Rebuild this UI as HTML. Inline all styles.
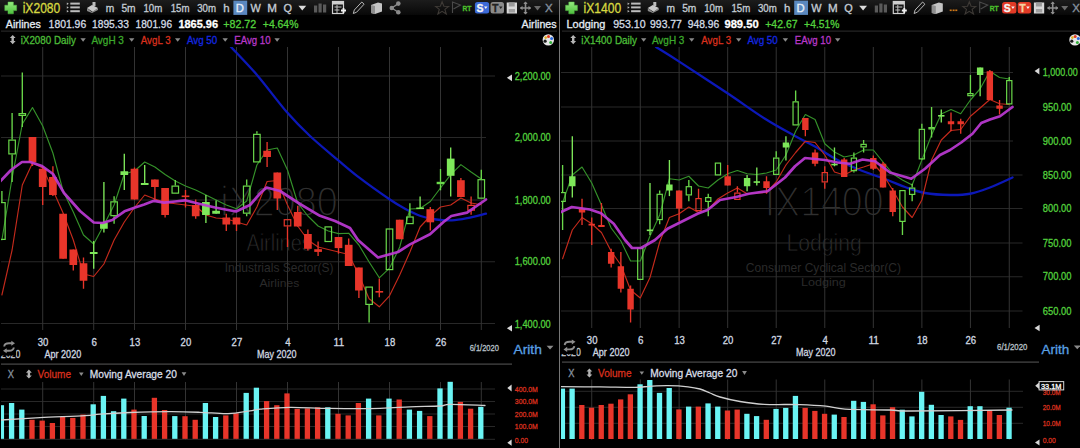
<!DOCTYPE html>
<html><head><meta charset="utf-8"><style>
html,body{margin:0;padding:0;background:#000;width:1080px;height:448px;overflow:hidden}
svg text{font-family:"Liberation Sans", sans-serif}
</style></head><body>
<svg width="1080" height="448" viewBox="0 0 1080 448" style="display:block;font-family:&quot;Liberation Sans&quot;, sans-serif"><defs><linearGradient id="tb" x1="0" y1="0" x2="0" y2="1"><stop offset="0" stop-color="#1c1c1c"/><stop offset="1" stop-color="#080808"/></linearGradient><linearGradient id="pl" x1="0" y1="0" x2="0" y2="1"><stop offset="0" stop-color="#96ea80"/><stop offset="1" stop-color="#4cc03c"/></linearGradient><clipPath id="cl"><rect x="1" y="47" width="495" height="283"/></clipPath><clipPath id="cr"><rect x="561" y="47" width="462" height="283"/></clipPath><clipPath id="vl"><rect x="1" y="380" width="495" height="68"/></clipPath><clipPath id="vr"><rect x="561" y="378" width="462" height="70"/></clipPath></defs><rect width="1080" height="448" fill="#000"/><rect x="0" y="0" width="559" height="15" fill="url(#tb)"/><rect x="560" y="0" width="520" height="15" fill="url(#tb)"/><path d="M8 2 h5.4 v3.2 h3.2 v5.4 h-3.2 v3.2 h-5.4 v-3.2 h-3.2 v-5.4 h3.2 z" fill="url(#pl)" stroke="#58c048" stroke-width="0.5" stroke-linejoin="round"/><text x="22.7" y="12.9" font-size="14" fill="#d6d840" stroke="#d6d840" stroke-width="0.3" textLength="37.6" lengthAdjust="spacingAndGlyphs">iX2080</text><path d="M66.8 2.5 l2 1.2 l-2 1.2 z" fill="#bcbcbc"/><rect x="70.3" y="2.6" width="9.5" height="2" fill="#bcbcbc"/><path d="M66.8 6.3 l2 1.2 l-2 1.2 z" fill="#bcbcbc"/><rect x="70.3" y="6.4" width="9.5" height="2" fill="#bcbcbc"/><path d="M66.8 10.1 l2 1.2 l-2 1.2 z" fill="#bcbcbc"/><rect x="70.3" y="10.2" width="9.5" height="2" fill="#bcbcbc"/><path d="M87 8 l5 -3 l6 3 l-5 4 z" fill="#c8c8c8"/><path d="M87 8 v3 l5 2 l6 -3 v-2 l-6 4 z" fill="#8a8a8a"/><rect x="92.5" y="2" width="3" height="4" fill="#bbb"/><text x="105.8" y="11.9" font-size="10.2" fill="#c4ccd4" stroke="#c4ccd4" stroke-width="0.3" textLength="8.5" lengthAdjust="spacingAndGlyphs">m</text><text x="121.4" y="11.9" font-size="10.2" fill="#c4ccd4" stroke="#c4ccd4" stroke-width="0.3" textLength="14.2" lengthAdjust="spacingAndGlyphs">5m</text><text x="143.4" y="11.9" font-size="10.2" fill="#c4ccd4" stroke="#c4ccd4" stroke-width="0.3" textLength="18.8" lengthAdjust="spacingAndGlyphs">10m</text><text x="170.7" y="11.9" font-size="10.2" fill="#c4ccd4" stroke="#c4ccd4" stroke-width="0.3" textLength="18.8" lengthAdjust="spacingAndGlyphs">15m</text><text x="197.2" y="11.9" font-size="10.2" fill="#c4ccd4" stroke="#c4ccd4" stroke-width="0.3" textLength="18.8" lengthAdjust="spacingAndGlyphs">30m</text><text x="223.2" y="11.9" font-size="10.2" fill="#c4ccd4" stroke="#c4ccd4" stroke-width="0.3" textLength="6.4" lengthAdjust="spacingAndGlyphs">h</text><rect x="233.4" y="0.6" width="13.8" height="14.3" fill="#5a88bf"/><text x="235.8" y="11.9" font-size="10.2" fill="#e6eef6" stroke="#e6eef6" stroke-width="0.3" textLength="8.2" lengthAdjust="spacingAndGlyphs">D</text><text x="250.5" y="11.9" font-size="10.2" fill="#c4ccd4" stroke="#c4ccd4" stroke-width="0.3" textLength="10.3" lengthAdjust="spacingAndGlyphs">W</text><text x="267.3" y="11.9" font-size="10.2" fill="#c4ccd4" stroke="#c4ccd4" stroke-width="0.3" textLength="9.7" lengthAdjust="spacingAndGlyphs">M</text><text x="283.5" y="11.9" font-size="10.2" fill="#c4ccd4" stroke="#c4ccd4" stroke-width="0.3" textLength="8.5" lengthAdjust="spacingAndGlyphs">Q</text><path d="M298.4 5.8 L306.2 5.8 L302.3 10.4 Z" fill="#dcdcdc"/><rect x="314" y="5.5" width="3.2" height="7" fill="#5a5a5a"/><rect x="318.5" y="3.5" width="3.2" height="9" fill="#5a5a5a"/><rect x="323" y="4.5" width="3.2" height="8" fill="#5a5a5a"/><rect x="332.5" y="1.5" width="11" height="12" fill="none" stroke="#d0d0d0" stroke-width="1.2"/><rect x="332.5" y="1.5" width="11" height="3" fill="#d0d0d0"/><path d="M334.5 7 h7 M334.5 10 h5 M337 5 v8" stroke="#c0c0c0" stroke-width="1"/><path d="M341 10.5 h5 M343.5 8 v5" stroke="#f0f0f0" stroke-width="1.8"/><path d="M353.3 13.5 l1 -3.5 l7.5 -8 l2.3 2.2 l-7.5 8 z" fill="none" stroke="#b8b8b8" stroke-width="1"/><path d="M371 5 l7 -2.5 l4 1 v8 l-7 2.5 l-4 -1 z" fill="#c4c4c4"/><path d="M371 5 l4 1 v8 l-4 -1 z" fill="#8e8e8e"/><circle cx="391.8" cy="8" r="2.3" fill="#8a8a8a"/><circle cx="398.3" cy="3.6" r="2.3" fill="#8a8a8a"/><circle cx="398.3" cy="12.2" r="2.3" fill="#8a8a8a"/><path d="M391.8 8 L398.3 3.6 M391.8 8 L398.3 12.2" stroke="#8a8a8a" stroke-width="1.3"/><path d="M442.1 1.8 L443.9 6.2 L448.6 6.4 L444.9 9.4 L446.3 14 L442.1 11.4 L437.9 14 L439.3 9.4 L435.6 6.4 L440.3 6.2 Z" fill="none" stroke="#3e3a36" stroke-width="1.1"/><path d="M452.5 13 L452.5 2 L460.5 5 L453.5 9" fill="none" stroke="#4a4a4a" stroke-width="1.1"/><text x="462.5" y="10.6" font-size="7.5" fill="#4cc02c" stroke="#4cc02c" stroke-width="0.3" textLength="9" lengthAdjust="spacingAndGlyphs" font-weight="bold">RT</text><rect x="474.9" y="1.9" width="14.3" height="11.7" rx="2.5" fill="#3c6ad8"/><text x="476.5" y="11.6" font-size="10.5" fill="#f4f4f4" stroke="#f4f4f4" stroke-width="0.3" textLength="7" lengthAdjust="spacingAndGlyphs" font-weight="bold">S</text><path d="M484 6.5 L487.5 6.5 L485.75 9 Z" fill="#f4f4f4"/><rect x="490.5" y="1.9" width="13.5" height="11.7" rx="2.5" fill="#8a8a8a"/><text x="492" y="11.6" font-size="10.5" fill="#222" stroke="#222" stroke-width="0.3" textLength="6.5" lengthAdjust="spacingAndGlyphs" font-weight="bold">T</text><path d="M499 6.5 L502.5 6.5 L500.75 9 Z" fill="#222"/><rect x="506.7" y="2.5" width="10.3" height="11" fill="#d8d8d8"/><rect x="508.7" y="2.5" width="6" height="4" fill="#9a9a9a"/><rect x="508.7" y="9" width="6.3" height="3.5" fill="#a0a0a0"/><path d="M525.5 2 v12 M520.3 8 h10.4" stroke="#8e8e8e" stroke-width="1.6"/><path d="M525.5 1.5 l-2.2 2.5 h4.4 z M525.5 14.5 l-2.2 -2.5 h4.4 z M520 8 l2.5 -2.2 v4.4 z M531 8 l-2.5 -2.2 v4.4 z" fill="#8e8e8e"/><path d="M534 6 L541 6 L537.5 10.6 Z" fill="#6a6a6a"/><text x="545" y="12" font-size="10.5" fill="#8894a0" stroke="#8894a0" stroke-width="0.3" textLength="7.7" lengthAdjust="spacingAndGlyphs">X</text><path d="M568.8 2 h5.4 v3.2 h3.2 v5.4 h-3.2 v3.2 h-5.4 v-3.2 h-3.2 v-5.4 h3.2 z" fill="url(#pl)" stroke="#58c048" stroke-width="0.5" stroke-linejoin="round"/><text x="583.5" y="12.9" font-size="14" fill="#d6d840" stroke="#d6d840" stroke-width="0.3" textLength="37.6" lengthAdjust="spacingAndGlyphs">iX1400</text><path d="M627.6 2.5 l2 1.2 l-2 1.2 z" fill="#bcbcbc"/><rect x="631.1" y="2.6" width="9.5" height="2" fill="#bcbcbc"/><path d="M627.6 6.3 l2 1.2 l-2 1.2 z" fill="#bcbcbc"/><rect x="631.1" y="6.4" width="9.5" height="2" fill="#bcbcbc"/><path d="M627.6 10.1 l2 1.2 l-2 1.2 z" fill="#bcbcbc"/><rect x="631.1" y="10.2" width="9.5" height="2" fill="#bcbcbc"/><path d="M647.8 8 l5 -3 l6 3 l-5 4 z" fill="#c8c8c8"/><path d="M647.8 8 v3 l5 2 l6 -3 v-2 l-6 4 z" fill="#8a8a8a"/><rect x="653.3" y="2" width="3" height="4" fill="#bbb"/><text x="666.6" y="11.9" font-size="10.2" fill="#c4ccd4" stroke="#c4ccd4" stroke-width="0.3" textLength="8.5" lengthAdjust="spacingAndGlyphs">m</text><text x="682.2" y="11.9" font-size="10.2" fill="#c4ccd4" stroke="#c4ccd4" stroke-width="0.3" textLength="14.2" lengthAdjust="spacingAndGlyphs">5m</text><text x="704.2" y="11.9" font-size="10.2" fill="#c4ccd4" stroke="#c4ccd4" stroke-width="0.3" textLength="18.8" lengthAdjust="spacingAndGlyphs">10m</text><text x="731.5" y="11.9" font-size="10.2" fill="#c4ccd4" stroke="#c4ccd4" stroke-width="0.3" textLength="18.8" lengthAdjust="spacingAndGlyphs">15m</text><text x="758" y="11.9" font-size="10.2" fill="#c4ccd4" stroke="#c4ccd4" stroke-width="0.3" textLength="18.8" lengthAdjust="spacingAndGlyphs">30m</text><text x="784" y="11.9" font-size="10.2" fill="#c4ccd4" stroke="#c4ccd4" stroke-width="0.3" textLength="6.4" lengthAdjust="spacingAndGlyphs">h</text><rect x="794.2" y="0.6" width="13.8" height="14.3" fill="#5a88bf"/><text x="796.6" y="11.9" font-size="10.2" fill="#e6eef6" stroke="#e6eef6" stroke-width="0.3" textLength="8.2" lengthAdjust="spacingAndGlyphs">D</text><text x="811.3" y="11.9" font-size="10.2" fill="#c4ccd4" stroke="#c4ccd4" stroke-width="0.3" textLength="10.3" lengthAdjust="spacingAndGlyphs">W</text><text x="828.1" y="11.9" font-size="10.2" fill="#c4ccd4" stroke="#c4ccd4" stroke-width="0.3" textLength="9.7" lengthAdjust="spacingAndGlyphs">M</text><text x="844.3" y="11.9" font-size="10.2" fill="#c4ccd4" stroke="#c4ccd4" stroke-width="0.3" textLength="8.5" lengthAdjust="spacingAndGlyphs">Q</text><path d="M859.2 5.8 L867 5.8 L863.1 10.4 Z" fill="#dcdcdc"/><rect x="874.8" y="5.5" width="3.2" height="7" fill="#5a5a5a"/><rect x="879.3" y="3.5" width="3.2" height="9" fill="#5a5a5a"/><rect x="883.8" y="4.5" width="3.2" height="8" fill="#5a5a5a"/><rect x="893.3" y="1.5" width="11" height="12" fill="none" stroke="#d0d0d0" stroke-width="1.2"/><rect x="893.3" y="1.5" width="11" height="3" fill="#d0d0d0"/><path d="M895.3 7 h7 M895.3 10 h5 M897.8 5 v8" stroke="#c0c0c0" stroke-width="1"/><path d="M901.8 10.5 h5 M904.3 8 v5" stroke="#f0f0f0" stroke-width="1.8"/><path d="M914.1 13.5 l1 -3.5 l7.5 -8 l2.3 2.2 l-7.5 8 z" fill="none" stroke="#b8b8b8" stroke-width="1"/><path d="M931.8 5 l7 -2.5 l4 1 v8 l-7 2.5 l-4 -1 z" fill="#c4c4c4"/><path d="M931.8 5 l4 1 v8 l-4 -1 z" fill="#8e8e8e"/><path d="M969.3 1.8 L971.1 6.2 L975.8 6.4 L972.1 9.4 L973.5 14 L969.3 11.4 L965.1 14 L966.5 9.4 L962.8 6.4 L967.5 6.2 Z" fill="none" stroke="#3e3a36" stroke-width="1.1"/><path d="M979.7 13 L979.7 2 L987.7 5 L980.7 9" fill="none" stroke="#4a4a4a" stroke-width="1.1"/><text x="989.7" y="10.6" font-size="7.5" fill="#4cc02c" stroke="#4cc02c" stroke-width="0.3" textLength="9" lengthAdjust="spacingAndGlyphs" font-weight="bold">RT</text><rect x="1002.1" y="1.9" width="14.3" height="11.7" rx="2.5" fill="#e23a26"/><text x="1003.7" y="11.6" font-size="10.5" fill="#f4f4f4" stroke="#f4f4f4" stroke-width="0.3" textLength="7" lengthAdjust="spacingAndGlyphs" font-weight="bold">S</text><path d="M1011.2 6.5 L1014.7 6.5 L1012.95 9 Z" fill="#f4f4f4"/><rect x="1017.7" y="1.9" width="13.5" height="11.7" rx="2.5" fill="#e23a26"/><text x="1019.2" y="11.6" font-size="10.5" fill="#f4d0a0" stroke="#f4d0a0" stroke-width="0.3" textLength="6.5" lengthAdjust="spacingAndGlyphs" font-weight="bold">T</text><path d="M1026.2 6.5 L1029.7 6.5 L1027.95 9 Z" fill="#f4f4f4"/><rect x="1033.9" y="2.5" width="10.3" height="11" fill="#d8d8d8"/><rect x="1035.9" y="2.5" width="6" height="4" fill="#9a9a9a"/><rect x="1035.9" y="9" width="6.3" height="3.5" fill="#a0a0a0"/><path d="M1052.7 2 v12 M1047.5 8 h10.4" stroke="#8e8e8e" stroke-width="1.6"/><path d="M1052.7 1.5 l-2.2 2.5 h4.4 z M1052.7 14.5 l-2.2 -2.5 h4.4 z M1047.2 8 l2.5 -2.2 v4.4 z M1058.2 8 l-2.5 -2.2 v4.4 z" fill="#8e8e8e"/><path d="M1061.2 6 L1068.2 6 L1064.7 10.6 Z" fill="#6a6a6a"/><text x="1072.2" y="12" font-size="10.5" fill="#8894a0" stroke="#8894a0" stroke-width="0.3" textLength="7.7" lengthAdjust="spacingAndGlyphs">X</text><rect x="949.7" y="9.5" width="2" height="1.6" fill="#d07818"/><rect x="952.6" y="9.5" width="2" height="1.6" fill="#d07818"/><rect x="955.3" y="9.5" width="2" height="1.6" fill="#d07818"/><text x="5.8" y="27.9" font-size="10.8" fill="#e4ecf4" stroke="#e4ecf4" stroke-width="0.3" textLength="35" lengthAdjust="spacingAndGlyphs">Airlines</text><text x="48.6" y="27.9" font-size="10.8" fill="#d4dce4" stroke="#d4dce4" stroke-width="0.3" textLength="37.6" lengthAdjust="spacingAndGlyphs">1801.96</text><text x="92" y="27.9" font-size="10.8" fill="#d4dce4" stroke="#d4dce4" stroke-width="0.3" textLength="37" lengthAdjust="spacingAndGlyphs">1895.33</text><text x="135.6" y="27.9" font-size="10.8" fill="#d4dce4" stroke="#d4dce4" stroke-width="0.3" textLength="36.4" lengthAdjust="spacingAndGlyphs">1801.96</text><text x="178.4" y="27.9" font-size="10.8" fill="#ffffff" stroke="#ffffff" stroke-width="0.3" textLength="39.6" lengthAdjust="spacingAndGlyphs" font-weight="bold">1865.96</text><text x="223.2" y="27.9" font-size="10.8" fill="#54d23e" stroke="#54d23e" stroke-width="0.3" textLength="33.1" lengthAdjust="spacingAndGlyphs">+82.72</text><text x="262.8" y="27.9" font-size="10.8" fill="#54d23e" stroke="#54d23e" stroke-width="0.3" textLength="35.6" lengthAdjust="spacingAndGlyphs">+4.64%</text><text x="521.6" y="27.9" font-size="10.8" fill="#e4ecf4" stroke="#e4ecf4" stroke-width="0.3" textLength="35" lengthAdjust="spacingAndGlyphs">Airlines</text><text x="566.5" y="27.9" font-size="10.8" fill="#e4ecf4" stroke="#e4ecf4" stroke-width="0.3" textLength="38.9" lengthAdjust="spacingAndGlyphs">Lodging</text><text x="613.2" y="27.9" font-size="10.8" fill="#d4dce4" stroke="#d4dce4" stroke-width="0.3" textLength="32.4" lengthAdjust="spacingAndGlyphs">953.10</text><text x="650.1" y="27.9" font-size="10.8" fill="#d4dce4" stroke="#d4dce4" stroke-width="0.3" textLength="31.8" lengthAdjust="spacingAndGlyphs">993.77</text><text x="687.7" y="27.9" font-size="10.8" fill="#d4dce4" stroke="#d4dce4" stroke-width="0.3" textLength="31.5" lengthAdjust="spacingAndGlyphs">948.96</text><text x="724.4" y="27.9" font-size="10.8" fill="#ffffff" stroke="#ffffff" stroke-width="0.3" textLength="34.3" lengthAdjust="spacingAndGlyphs" font-weight="bold">989.50</text><text x="765.2" y="27.9" font-size="10.8" fill="#54d23e" stroke="#54d23e" stroke-width="0.3" textLength="32.4" lengthAdjust="spacingAndGlyphs">+42.67</text><text x="804.1" y="27.9" font-size="10.8" fill="#54d23e" stroke="#54d23e" stroke-width="0.3" textLength="35.4" lengthAdjust="spacingAndGlyphs">+4.51%</text><rect x="1" y="30.6" width="556" height="1" fill="#2e2e2e"/><rect x="562" y="30.6" width="518" height="1" fill="#2e2e2e"/><path d="M12.7 34.9 l2.9 3.1 h-5.8 z M12.7 44.2 l2.9 -3.1 h-5.8 z" fill="#b4b4b4"/><rect x="11.5" y="37.5" width="2.4" height="4.2" fill="#b4b4b4"/><text x="20.7" y="44" font-size="10.5" fill="#4cbc38" stroke="#4cbc38" stroke-width="0.3" textLength="55.1" lengthAdjust="spacingAndGlyphs">iX2080 Daily</text><text x="91.4" y="44" font-size="10.5" fill="#3ca82c" stroke="#3ca82c" stroke-width="0.3" textLength="32.5" lengthAdjust="spacingAndGlyphs">AvgH 3</text><text x="140.8" y="44" font-size="10.5" fill="#d8301e" stroke="#d8301e" stroke-width="0.3" textLength="29.8" lengthAdjust="spacingAndGlyphs">AvgL 3</text><text x="186.9" y="44" font-size="10.5" fill="#1428e0" stroke="#1428e0" stroke-width="0.3" textLength="30.4" lengthAdjust="spacingAndGlyphs">Avg 50</text><text x="234.3" y="44" font-size="10.5" fill="#b838c8" stroke="#b838c8" stroke-width="0.3" textLength="36.3" lengthAdjust="spacingAndGlyphs">EAvg 10</text><path d="M80.4 38.2 L85.8 38.2 L83.1 41.8 Z" fill="#8a8a8a"/><path d="M129 38.2 L134.4 38.2 L131.7 41.8 Z" fill="#8a8a8a"/><path d="M175 38.2 L180.4 38.2 L177.7 41.8 Z" fill="#8a8a8a"/><path d="M222.5 38.2 L227.9 38.2 L225.2 41.8 Z" fill="#8a8a8a"/><path d="M274.4 38.2 L279.8 38.2 L277.1 41.8 Z" fill="#8a8a8a"/><path d="M573.2 34.9 l2.9 3.1 h-5.8 z M573.2 44.2 l2.9 -3.1 h-5.8 z" fill="#b4b4b4"/><rect x="572" y="37.5" width="2.4" height="4.2" fill="#b4b4b4"/><text x="581.2" y="44" font-size="10.5" fill="#4cbc38" stroke="#4cbc38" stroke-width="0.3" textLength="55.8" lengthAdjust="spacingAndGlyphs">iX1400 Daily</text><text x="651.9" y="44" font-size="10.5" fill="#3ca82c" stroke="#3ca82c" stroke-width="0.3" textLength="32.5" lengthAdjust="spacingAndGlyphs">AvgH 3</text><text x="701.3" y="44" font-size="10.5" fill="#d8301e" stroke="#d8301e" stroke-width="0.3" textLength="29.8" lengthAdjust="spacingAndGlyphs">AvgL 3</text><text x="747.4" y="44" font-size="10.5" fill="#1428e0" stroke="#1428e0" stroke-width="0.3" textLength="30.4" lengthAdjust="spacingAndGlyphs">Avg 50</text><text x="794.8" y="44" font-size="10.5" fill="#b838c8" stroke="#b838c8" stroke-width="0.3" textLength="36.3" lengthAdjust="spacingAndGlyphs">EAvg 10</text><path d="M641 38.2 L646.4 38.2 L643.7 41.8 Z" fill="#8a8a8a"/><path d="M689 38.2 L694.4 38.2 L691.7 41.8 Z" fill="#8a8a8a"/><path d="M736 38.2 L741.4 38.2 L738.7 41.8 Z" fill="#8a8a8a"/><path d="M782.7 38.2 L788.1 38.2 L785.4 41.8 Z" fill="#8a8a8a"/><path d="M835 38.2 L840.4 38.2 L837.7 41.8 Z" fill="#8a8a8a"/><circle cx="548.3" cy="39.9" r="5.7" fill="#e6e6e6"/><circle cx="545.1" cy="41.2" r="1.6" fill="#1a1a1a"/><circle cx="548.5" cy="36.6" r="1.5" fill="#e23a22"/><circle cx="551.6" cy="38.6" r="1.5" fill="#2a6ae0"/><circle cx="550.7" cy="42.4" r="1.5" fill="#34b03a"/><circle cx="545.7" cy="37.6" r="1.3" fill="#e0b020"/><circle cx="1075" cy="39.9" r="5.7" fill="#e6e6e6"/><circle cx="1071.8" cy="41.2" r="1.6" fill="#1a1a1a"/><circle cx="1075.2" cy="36.6" r="1.5" fill="#e23a22"/><circle cx="1078.3" cy="38.6" r="1.5" fill="#2a6ae0"/><circle cx="1077.4" cy="42.4" r="1.5" fill="#34b03a"/><circle cx="1072.4" cy="37.6" r="1.3" fill="#e0b020"/><rect x="559" y="0" width="1" height="448" fill="#767676"/><text x="220.3" y="216.4" font-size="42" fill="#303030" textLength="117.5" lengthAdjust="spacingAndGlyphs" stroke="#000" stroke-width="1.7">iX2080</text><text x="246.4" y="251.2" font-size="23.5" fill="#303030" textLength="65.3" lengthAdjust="spacingAndGlyphs" stroke="#000" stroke-width="0.8">Airlines</text><text x="224.7" y="271.5" font-size="13" fill="#2a2a2a" textLength="108.7" lengthAdjust="spacingAndGlyphs">Industrials Sector(S)</text><text x="259.5" y="286.6" font-size="11.8" fill="#2a2a2a" textLength="39.7" lengthAdjust="spacingAndGlyphs">Airlines</text><rect x="1" y="75.5" width="494" height="1" fill="#282828"/><rect x="1" y="137" width="485" height="1" fill="#282828"/><rect x="1" y="199.5" width="485" height="1" fill="#282828"/><rect x="1" y="261.25" width="494" height="1" fill="#282828"/><rect x="1" y="323" width="494" height="1" fill="#282828"/><rect x="42.2" y="47" width="1" height="283" fill="#333333"/><rect x="93.2" y="47" width="1" height="283" fill="#333333"/><rect x="134" y="47" width="1" height="283" fill="#333333"/><rect x="185" y="47" width="1" height="283" fill="#333333"/><rect x="236" y="47" width="1" height="283" fill="#333333"/><rect x="287" y="47" width="1" height="283" fill="#333333"/><rect x="338" y="47" width="1" height="283" fill="#333333"/><rect x="389" y="47" width="1" height="283" fill="#333333"/><rect x="440" y="47" width="1" height="283" fill="#333333"/><rect x="480.8" y="47" width="1" height="283" fill="#333333"/><g clip-path="url(#cl)"><path d="M231 47 C235.33 51.67 247.67 64.12 257 75 C266.33 85.88 278.17 102.13 287 112.3 C295.83 122.47 301.5 128.03 310 136 C318.5 143.97 329.67 153.07 338 160.1 C346.33 167.13 351.42 171.67 360 178.2 C368.58 184.73 382 194.2 389.5 199.3 C397 204.4 399.82 206.02 405 208.8 C410.18 211.58 415.39 214.22 420.6 216 C425.81 217.78 431.03 218.77 436.25 219.5 C441.47 220.23 446.69 220.63 451.9 220.4 C457.11 220.17 461.82 219.22 467.5 218.1 C473.18 216.98 482.92 214.43 486 213.7" fill="none" stroke="#0c18b8" stroke-width="2.3" stroke-linecap="round"/><polyline points="1.9,240 12.1,178 22.3,124 32.5,107.5 42.7,126 52.9,153 63.1,191 73.3,212 83.5,235 93.7,244 103.9,225 114.1,205 124.3,174 134.5,171 144.7,162 154.9,167 165.1,174.5 175.3,181 185.5,186 195.7,190 205.9,195 216.1,200 226.3,205 236.5,208.75 246.7,201 256.9,165 267.1,150 277.3,148 287.5,170 297.7,203 307.9,216 318.1,226 328.3,231 338.5,233.6 348.7,233.2 358.9,245 369.1,262 379.3,277.8 389.5,268.2 399.7,247 409.9,209 420.1,208.5 430.3,201.5 440.5,188 450.7,174.6 460.9,164.6 471.1,172 481.3,179" fill="none" stroke="#35922a" stroke-width="1.15" stroke-linejoin="round" stroke-linecap="round"/><polyline points="1.9,295 12.1,250 22.3,185 32.5,163 42.7,168 52.9,190 63.1,213 73.3,240 83.5,274 93.7,276.5 103.9,264 114.1,240 124.3,222 134.5,207.5 144.7,195 154.9,199 165.1,202.5 175.3,203.75 185.5,205 195.7,206.25 205.9,215 216.1,218 226.3,218.75 236.5,222 246.7,225 256.9,207 267.1,181.5 277.3,180.5 287.5,205 297.7,226 307.9,240 318.1,247 328.3,249.5 338.5,252 348.7,254.5 358.9,275 369.1,298.7 379.3,306.8 389.5,295.8 399.7,275 409.9,252 420.1,227 430.3,216 440.5,207 450.7,205 460.9,198 471.1,203 481.3,204.8" fill="none" stroke="#c42a1c" stroke-width="1.15" stroke-linejoin="round" stroke-linecap="round"/><line x1="1.9" y1="191" x2="1.9" y2="202" stroke="#6ad84a" stroke-width="1.35"/><rect x="-1.35" y="202.6" width="6.5" height="36.8" fill="none" stroke="#6ad84a" stroke-width="1.2"/><line x1="12.1" y1="113" x2="12.1" y2="139.5" stroke="#6ad84a" stroke-width="1.35"/><line x1="12.1" y1="154.5" x2="12.1" y2="182" stroke="#6ad84a" stroke-width="1.35"/><rect x="8.85" y="140.1" width="6.5" height="13.8" fill="none" stroke="#6ad84a" stroke-width="1.2"/><line x1="22.3" y1="72.5" x2="22.3" y2="113" stroke="#6ad84a" stroke-width="1.35"/><line x1="22.3" y1="116" x2="22.3" y2="127" stroke="#6ad84a" stroke-width="1.35"/><rect x="19.05" y="113.6" width="6.5" height="1.8" fill="none" stroke="#6ad84a" stroke-width="1.2"/><line x1="32.5" y1="137" x2="32.5" y2="166" stroke="#e8352a" stroke-width="1.35"/><rect x="28.65" y="137" width="7.7" height="25.5" fill="#e8352a"/><line x1="42.7" y1="166" x2="42.7" y2="205" stroke="#e8352a" stroke-width="1.35"/><rect x="38.85" y="168.75" width="7.7" height="18.25" fill="#e8352a"/><line x1="52.9" y1="166.25" x2="52.9" y2="196" stroke="#e8352a" stroke-width="1.35"/><rect x="49.05" y="177" width="7.7" height="18" fill="#e8352a"/><line x1="63.1" y1="213.75" x2="63.1" y2="258.75" stroke="#e8352a" stroke-width="1.35"/><rect x="59.25" y="213.75" width="7.7" height="45" fill="#e8352a"/><line x1="73.3" y1="249.5" x2="73.3" y2="270.5" stroke="#e8352a" stroke-width="1.35"/><rect x="69.45" y="249.5" width="7.7" height="15.5" fill="#e8352a"/><line x1="83.5" y1="257.5" x2="83.5" y2="288.75" stroke="#e8352a" stroke-width="1.35"/><rect x="79.65" y="263.25" width="7.7" height="17.5" fill="#e8352a"/><line x1="93.7" y1="241" x2="93.7" y2="268.75" stroke="#7ee85a" stroke-width="1.35"/><rect x="89.85" y="252" width="7.7" height="2" fill="#7ee85a"/><line x1="103.9" y1="182" x2="103.9" y2="232.5" stroke="#7ee85a" stroke-width="1.35"/><rect x="100.05" y="222.5" width="7.7" height="6.25" fill="#7ee85a"/><line x1="114.1" y1="196.25" x2="114.1" y2="201.25" stroke="#6ad84a" stroke-width="1.35"/><line x1="114.1" y1="216.25" x2="114.1" y2="223.75" stroke="#6ad84a" stroke-width="1.35"/><rect x="110.85" y="201.85" width="6.5" height="13.8" fill="none" stroke="#6ad84a" stroke-width="1.2"/><line x1="124.3" y1="153.75" x2="124.3" y2="190" stroke="#7ee85a" stroke-width="1.35"/><rect x="120.45" y="171.25" width="7.7" height="3.75" fill="#7ee85a"/><line x1="134.5" y1="167.5" x2="134.5" y2="199.5" stroke="#e8352a" stroke-width="1.35"/><rect x="130.65" y="168.75" width="7.7" height="30.75" fill="#e8352a"/><line x1="144.7" y1="165" x2="144.7" y2="185" stroke="#7ee85a" stroke-width="1.35"/><rect x="140.85" y="183" width="7.7" height="2" fill="#7ee85a"/><line x1="154.9" y1="179.5" x2="154.9" y2="200" stroke="#e8352a" stroke-width="1.35"/><rect x="151.05" y="179.5" width="7.7" height="7.5" fill="#e8352a"/><line x1="165.1" y1="188" x2="165.1" y2="217.5" stroke="#e8352a" stroke-width="1.35"/><rect x="161.25" y="188" width="7.7" height="27" fill="#e8352a"/><line x1="175.3" y1="180" x2="175.3" y2="185.5" stroke="#6ad84a" stroke-width="1.35"/><rect x="172.05" y="186.1" width="6.5" height="7.05" fill="none" stroke="#6ad84a" stroke-width="1.2"/><line x1="185.5" y1="190" x2="185.5" y2="207.5" stroke="#e8352a" stroke-width="1.35"/><rect x="181.65" y="195.5" width="7.7" height="1.6" fill="#e8352a"/><line x1="195.7" y1="199.5" x2="195.7" y2="218.75" stroke="#e8352a" stroke-width="1.35"/><rect x="191.85" y="205" width="7.7" height="11.25" fill="#e8352a"/><line x1="205.9" y1="195" x2="205.9" y2="223" stroke="#7ee85a" stroke-width="1.35"/><rect x="202.05" y="202" width="7.7" height="13" fill="#7ee85a"/><line x1="216.1" y1="200.5" x2="216.1" y2="213.75" stroke="#7ee85a" stroke-width="1.35"/><rect x="212.25" y="210.75" width="7.7" height="3" fill="#7ee85a"/><line x1="226.3" y1="213.75" x2="226.3" y2="231" stroke="#e8352a" stroke-width="1.35"/><rect x="222.45" y="217.5" width="7.7" height="7" fill="#e8352a"/><line x1="236.5" y1="217.5" x2="236.5" y2="231" stroke="#e8352a" stroke-width="1.35"/><rect x="232.65" y="217.5" width="7.7" height="7" fill="#e8352a"/><line x1="246.7" y1="179.5" x2="246.7" y2="185.5" stroke="#6ad84a" stroke-width="1.35"/><line x1="246.7" y1="213.75" x2="246.7" y2="216.25" stroke="#6ad84a" stroke-width="1.35"/><rect x="243.45" y="186.1" width="6.5" height="27.05" fill="none" stroke="#6ad84a" stroke-width="1.2"/><line x1="256.9" y1="131.25" x2="256.9" y2="133.75" stroke="#6ad84a" stroke-width="1.35"/><rect x="253.65" y="134.35" width="6.5" height="27.55" fill="none" stroke="#6ad84a" stroke-width="1.2"/><line x1="267.1" y1="142" x2="267.1" y2="167" stroke="#e8352a" stroke-width="1.35"/><rect x="263.25" y="150.75" width="7.7" height="6.25" fill="#e8352a"/><line x1="277.3" y1="172.5" x2="277.3" y2="210" stroke="#e8352a" stroke-width="1.35"/><rect x="273.45" y="172.5" width="7.7" height="26" fill="#e8352a"/><line x1="287.5" y1="226.5" x2="287.5" y2="247" stroke="#e8352a" stroke-width="1.35"/><rect x="284.25" y="219.7" width="6.5" height="6.2" fill="none" stroke="#e8352a" stroke-width="1.2"/><line x1="297.7" y1="205.7" x2="297.7" y2="226.5" stroke="#e8352a" stroke-width="1.35"/><rect x="293.85" y="212" width="7.7" height="14.5" fill="#e8352a"/><line x1="307.9" y1="229.6" x2="307.9" y2="250.4" stroke="#e8352a" stroke-width="1.35"/><rect x="304.05" y="234" width="7.7" height="14.8" fill="#e8352a"/><line x1="318.1" y1="241.4" x2="318.1" y2="256" stroke="#e8352a" stroke-width="1.35"/><rect x="314.25" y="249.2" width="7.7" height="2.7" fill="#e8352a"/><rect x="325.05" y="226.9" width="6.5" height="14.6" fill="none" stroke="#6ad84a" stroke-width="1.2"/><line x1="338.5" y1="237" x2="338.5" y2="253.7" stroke="#e8352a" stroke-width="1.35"/><rect x="334.65" y="237" width="7.7" height="11.1" fill="#e8352a"/><line x1="348.7" y1="238.5" x2="348.7" y2="266" stroke="#e8352a" stroke-width="1.35"/><rect x="344.85" y="244.8" width="7.7" height="21.2" fill="#e8352a"/><line x1="358.9" y1="267.5" x2="358.9" y2="298" stroke="#e8352a" stroke-width="1.35"/><rect x="355.05" y="267.5" width="7.7" height="23" fill="#e8352a"/><line x1="369.1" y1="305" x2="369.1" y2="322.5" stroke="#6ad84a" stroke-width="1.35"/><rect x="365.85" y="287.1" width="6.5" height="17.3" fill="none" stroke="#6ad84a" stroke-width="1.2"/><line x1="379.3" y1="278.4" x2="379.3" y2="297.2" stroke="#e8352a" stroke-width="1.35"/><rect x="375.45" y="291" width="7.7" height="1.6" fill="#e8352a"/><rect x="386.25" y="229" width="6.5" height="40.6" fill="none" stroke="#6ad84a" stroke-width="1.2"/><line x1="399.7" y1="219.7" x2="399.7" y2="239.2" stroke="#e8352a" stroke-width="1.35"/><rect x="395.85" y="219.7" width="7.7" height="19.5" fill="#e8352a"/><line x1="409.9" y1="203.2" x2="409.9" y2="216.4" stroke="#6ad84a" stroke-width="1.35"/><rect x="406.65" y="217" width="6.5" height="6.6" fill="none" stroke="#6ad84a" stroke-width="1.2"/><line x1="420.1" y1="196.5" x2="420.1" y2="209" stroke="#7ee85a" stroke-width="1.35"/><rect x="416.25" y="207.5" width="7.7" height="1.6" fill="#7ee85a"/><line x1="430.3" y1="207" x2="430.3" y2="230.5" stroke="#e8352a" stroke-width="1.35"/><rect x="426.45" y="209.2" width="7.7" height="13.1" fill="#e8352a"/><line x1="440.5" y1="169" x2="440.5" y2="181.8" stroke="#6ad84a" stroke-width="1.35"/><line x1="440.5" y1="184.2" x2="440.5" y2="190.3" stroke="#6ad84a" stroke-width="1.35"/><rect x="437.25" y="182.4" width="6.5" height="1.2" fill="none" stroke="#6ad84a" stroke-width="1.2"/><line x1="450.7" y1="147.4" x2="450.7" y2="196.5" stroke="#7ee85a" stroke-width="1.35"/><rect x="446.85" y="158.6" width="7.7" height="17.2" fill="#7ee85a"/><line x1="460.9" y1="178" x2="460.9" y2="197" stroke="#e8352a" stroke-width="1.35"/><rect x="457.05" y="180.2" width="7.7" height="16.8" fill="#e8352a"/><line x1="471.1" y1="196.5" x2="471.1" y2="204.8" stroke="#e8352a" stroke-width="1.35"/><line x1="471.1" y1="210.8" x2="471.1" y2="214.8" stroke="#e8352a" stroke-width="1.35"/><rect x="467.85" y="205.4" width="6.5" height="4.8" fill="none" stroke="#e8352a" stroke-width="1.2"/><line x1="481.3" y1="169.7" x2="481.3" y2="179.1" stroke="#6ad84a" stroke-width="1.35"/><rect x="478.05" y="179.7" width="6.5" height="18.45" fill="none" stroke="#6ad84a" stroke-width="1.2"/><polyline points="0,181.5 11,170 22,162 30,162 42,166 53,174 64,193 80,211 93.75,222.5 102.5,223 112.3,220 124.5,211.3 134.4,207.7 144.2,204.5 154,200.8 164,202.6 175,201.5 185,200.3 200,204 215,207.5 236,211.5 250,205 260,193.5 266.5,187.5 280,191 300,204 320,215.8 335,221 350,228 358,240 378,257.5 398,252 410,244.4 430,234.2 443.5,222 451.3,216 467,212.6 486,199.5" fill="none" stroke="#bc3ad4" stroke-width="2.7" stroke-linejoin="round" stroke-linecap="round" stroke-opacity="0.92"/></g><text x="514.7" y="79.8" font-size="11.3" fill="#54d23e" stroke="#54d23e" stroke-width="0.3" textLength="36.1" lengthAdjust="spacingAndGlyphs">2,200.00</text><text x="514.7" y="141.3" font-size="11.3" fill="#54d23e" stroke="#54d23e" stroke-width="0.3" textLength="36.1" lengthAdjust="spacingAndGlyphs">2,000.00</text><text x="514.7" y="203.5" font-size="11.3" fill="#54d23e" stroke="#54d23e" stroke-width="0.3" textLength="36.1" lengthAdjust="spacingAndGlyphs">1,800.00</text><text x="514.7" y="265.3" font-size="11.3" fill="#54d23e" stroke="#54d23e" stroke-width="0.3" textLength="36.1" lengthAdjust="spacingAndGlyphs">1,600.00</text><text x="514.7" y="327.6" font-size="11.3" fill="#54d23e" stroke="#54d23e" stroke-width="0.3" textLength="36.1" lengthAdjust="spacingAndGlyphs">1,400.00</text><path d="M512 74.4 L512 81.3 L506.9 77.85 Z" fill="#d8d8d8"/><path d="M512 325 L512 331.6 L506.9 328.3 Z" fill="#d8d8d8"/><text x="43.1" y="345.7" font-size="10" fill="#d0d8e0" stroke="#d0d8e0" stroke-width="0.3" textLength="10.6" lengthAdjust="spacingAndGlyphs" text-anchor="middle">30</text><text x="94.1" y="345.7" font-size="10" fill="#d0d8e0" stroke="#d0d8e0" stroke-width="0.3" textLength="5.4" lengthAdjust="spacingAndGlyphs" text-anchor="middle">6</text><text x="134.9" y="345.7" font-size="10" fill="#d0d8e0" stroke="#d0d8e0" stroke-width="0.3" textLength="10.6" lengthAdjust="spacingAndGlyphs" text-anchor="middle">13</text><text x="185.9" y="345.7" font-size="10" fill="#d0d8e0" stroke="#d0d8e0" stroke-width="0.3" textLength="10.6" lengthAdjust="spacingAndGlyphs" text-anchor="middle">20</text><text x="236.9" y="345.7" font-size="10" fill="#d0d8e0" stroke="#d0d8e0" stroke-width="0.3" textLength="10.6" lengthAdjust="spacingAndGlyphs" text-anchor="middle">27</text><text x="287.9" y="345.7" font-size="10" fill="#d0d8e0" stroke="#d0d8e0" stroke-width="0.3" textLength="5.4" lengthAdjust="spacingAndGlyphs" text-anchor="middle">4</text><text x="338.9" y="345.7" font-size="10" fill="#d0d8e0" stroke="#d0d8e0" stroke-width="0.3" textLength="10.6" lengthAdjust="spacingAndGlyphs" text-anchor="middle">11</text><text x="389.9" y="345.7" font-size="10" fill="#d0d8e0" stroke="#d0d8e0" stroke-width="0.3" textLength="10.6" lengthAdjust="spacingAndGlyphs" text-anchor="middle">18</text><text x="440.9" y="345.7" font-size="10" fill="#d0d8e0" stroke="#d0d8e0" stroke-width="0.3" textLength="10.6" lengthAdjust="spacingAndGlyphs" text-anchor="middle">26</text><text x="484.3" y="350.8" font-size="8.6" fill="#b8c0c8" stroke="#b8c0c8" stroke-width="0.3" textLength="29.2" lengthAdjust="spacingAndGlyphs" text-anchor="middle">6/1/2020</text><text x="44.5" y="357.6" font-size="10" fill="#d0d8e0" stroke="#d0d8e0" stroke-width="0.3" textLength="36.7" lengthAdjust="spacingAndGlyphs">Apr 2020</text><text x="257" y="357.6" font-size="10" fill="#d0d8e0" stroke="#d0d8e0" stroke-width="0.3" textLength="39.4" lengthAdjust="spacingAndGlyphs">May 2020</text><text x="0.8" y="357.8" font-size="10" fill="#c0c8d0" stroke="#c0c8d0" stroke-width="0.3" textLength="19.5" lengthAdjust="spacingAndGlyphs">2020</text><rect x="0" y="339" width="16" height="16.6" fill="#000"/><path d="M4.2 346.5 Q4.5 343.2 9 343.2 L12 343.2" fill="none" stroke="#8e8e8e" stroke-width="1.9"/><path d="M11.3 340.8 L15 343.2 L11.3 345.8 Z" fill="#8e8e8e"/><path d="M13.8 347.5 Q13.5 350.8 9 350.8 L6 350.8" fill="none" stroke="#8e8e8e" stroke-width="1.9"/><path d="M6.7 348.2 L3 350.8 L6.7 353.3 Z" fill="#8e8e8e"/><text x="513.5" y="353.5" font-size="13.2" fill="#5aa0e4" stroke="#5aa0e4" stroke-width="0.3" textLength="28.3" lengthAdjust="spacingAndGlyphs">Arith</text><path d="M546.6 345.7 L553.5 345.7 L550.05 349.4 Z" fill="#8a8a8a"/><rect x="1" y="363.5" width="511" height="1.2" fill="#4a4a4a"/><text x="7.8" y="377.8" font-size="10" fill="#8894a0" stroke="#8894a0" stroke-width="0.3" textLength="6.2" lengthAdjust="spacingAndGlyphs">X</text><path d="M28.9 369.6 l2.9 3.1 h-5.8 z M28.9 378.6 l2.9 -3.1 h-5.8 z" fill="#b4b4b4"/><rect x="27.7" y="372.2" width="2.4" height="4" fill="#b4b4b4"/><text x="37.5" y="377.8" font-size="10.5" fill="#d8301e" stroke="#d8301e" stroke-width="0.3" textLength="33.5" lengthAdjust="spacingAndGlyphs">Volume</text><path d="M79 372.5 L83.6 372.5 L81.3 375.9 Z" fill="#8a8a8a"/><text x="89.8" y="377.8" font-size="10.5" fill="#d8dee6" stroke="#d8dee6" stroke-width="0.3" textLength="87" lengthAdjust="spacingAndGlyphs">Moving Average 20</text><path d="M181.6 372.2 L186.4 372.2 L184 376 Z" fill="#8a8a8a"/><text x="568.3" y="376.7" font-size="10" fill="#8894a0" stroke="#8894a0" stroke-width="0.3" textLength="6.2" lengthAdjust="spacingAndGlyphs">X</text><path d="M589.4 368.5 l2.9 3.1 h-5.8 z M589.4 377.5 l2.9 -3.1 h-5.8 z" fill="#b4b4b4"/><rect x="588.2" y="371.1" width="2.4" height="4" fill="#b4b4b4"/><text x="598" y="376.7" font-size="10.5" fill="#d8301e" stroke="#d8301e" stroke-width="0.3" textLength="33.5" lengthAdjust="spacingAndGlyphs">Volume</text><path d="M639.5 371.4 L644.1 371.4 L641.8 374.8 Z" fill="#8a8a8a"/><text x="650.3" y="376.7" font-size="10.5" fill="#d8dee6" stroke="#d8dee6" stroke-width="0.3" textLength="87" lengthAdjust="spacingAndGlyphs">Moving Average 20</text><path d="M742.1 371.1 L746.9 371.1 L744.5 374.9 Z" fill="#8a8a8a"/><rect x="1" y="388.5" width="494" height="1" fill="#282828"/><rect x="1" y="401" width="494" height="1" fill="#282828"/><rect x="1" y="413.5" width="494" height="1" fill="#282828"/><rect x="1" y="426" width="494" height="1" fill="#282828"/><rect x="42.2" y="382" width="1" height="58" fill="#333333"/><rect x="93.2" y="382" width="1" height="58" fill="#333333"/><rect x="134" y="382" width="1" height="58" fill="#333333"/><rect x="185" y="382" width="1" height="58" fill="#333333"/><rect x="236" y="382" width="1" height="58" fill="#333333"/><rect x="287" y="382" width="1" height="58" fill="#333333"/><rect x="338" y="382" width="1" height="58" fill="#333333"/><rect x="389" y="382" width="1" height="58" fill="#333333"/><rect x="440" y="382" width="1" height="58" fill="#333333"/><rect x="480.8" y="382" width="1" height="58" fill="#333333"/><g clip-path="url(#vl)"><rect x="-1.25" y="405.2" width="5.3" height="33.8" fill="#6af4f4"/><rect x="8.95" y="403" width="5.3" height="36" fill="#6af4f4"/><rect x="19.15" y="409.6" width="5.3" height="29.4" fill="#6af4f4"/><rect x="29.35" y="419.8" width="5.3" height="19.2" fill="#e8352a"/><rect x="39.55" y="420.6" width="5.3" height="18.4" fill="#e8352a"/><rect x="49.75" y="423" width="5.3" height="16" fill="#e8352a"/><rect x="59.95" y="417" width="5.3" height="22" fill="#e8352a"/><rect x="70.15" y="417.9" width="5.3" height="21.1" fill="#e8352a"/><rect x="80.35" y="414.6" width="5.3" height="24.4" fill="#e8352a"/><rect x="90.55" y="404.3" width="5.3" height="34.7" fill="#6af4f4"/><rect x="100.75" y="395.9" width="5.3" height="43.1" fill="#6af4f4"/><rect x="110.95" y="411.2" width="5.3" height="27.8" fill="#6af4f4"/><rect x="121.15" y="398.6" width="5.3" height="40.4" fill="#6af4f4"/><rect x="131.35" y="409.6" width="5.3" height="29.4" fill="#e8352a"/><rect x="141.55" y="416" width="5.3" height="23" fill="#6af4f4"/><rect x="151.75" y="397.8" width="5.3" height="41.2" fill="#e8352a"/><rect x="161.95" y="410" width="5.3" height="29" fill="#e8352a"/><rect x="172.15" y="416.1" width="5.3" height="22.9" fill="#6af4f4"/><rect x="182.35" y="416.2" width="5.3" height="22.8" fill="#e8352a"/><rect x="192.55" y="419.8" width="5.3" height="19.2" fill="#e8352a"/><rect x="202.75" y="403" width="5.3" height="36" fill="#6af4f4"/><rect x="212.95" y="417" width="5.3" height="22" fill="#6af4f4"/><rect x="223.15" y="415.4" width="5.3" height="23.6" fill="#e8352a"/><rect x="233.35" y="413.3" width="5.3" height="25.7" fill="#e8352a"/><rect x="243.55" y="392.9" width="5.3" height="46.1" fill="#6af4f4"/><rect x="253.75" y="387.7" width="5.3" height="51.3" fill="#6af4f4"/><rect x="263.95" y="401.1" width="5.3" height="37.9" fill="#e8352a"/><rect x="274.15" y="405.2" width="5.3" height="33.8" fill="#e8352a"/><rect x="284.35" y="393.4" width="5.3" height="45.6" fill="#e8352a"/><rect x="294.55" y="408.9" width="5.3" height="30.1" fill="#e8352a"/><rect x="304.75" y="408.4" width="5.3" height="30.6" fill="#e8352a"/><rect x="314.95" y="407.3" width="5.3" height="31.7" fill="#e8352a"/><rect x="325.15" y="407.3" width="5.3" height="31.7" fill="#6af4f4"/><rect x="335.35" y="413.8" width="5.3" height="25.2" fill="#e8352a"/><rect x="345.55" y="415.4" width="5.3" height="23.6" fill="#e8352a"/><rect x="355.75" y="403" width="5.3" height="36" fill="#e8352a"/><rect x="365.95" y="398.6" width="5.3" height="40.4" fill="#6af4f4"/><rect x="376.15" y="415.4" width="5.3" height="23.6" fill="#e8352a"/><rect x="386.35" y="398.6" width="5.3" height="40.4" fill="#6af4f4"/><rect x="396.55" y="399.5" width="5.3" height="39.5" fill="#e8352a"/><rect x="406.75" y="409.6" width="5.3" height="29.4" fill="#6af4f4"/><rect x="416.95" y="410.9" width="5.3" height="28.1" fill="#6af4f4"/><rect x="427.15" y="416.1" width="5.3" height="22.9" fill="#e8352a"/><rect x="437.35" y="388.4" width="5.3" height="50.6" fill="#6af4f4"/><rect x="447.55" y="381.8" width="5.3" height="57.2" fill="#6af4f4"/><rect x="457.75" y="401.9" width="5.3" height="37.1" fill="#e8352a"/><rect x="467.95" y="408.7" width="5.3" height="30.3" fill="#e8352a"/><rect x="478.15" y="406.8" width="5.3" height="32.2" fill="#6af4f4"/><path d="M1 420 C7.5 419.62 26 418.42 40 417.7 C54 416.98 75 416.3 85 415.7 C95 415.1 92.5 414.63 100 414.1 C107.5 413.57 118.33 412.9 130 412.5 C141.67 412.1 158.33 411.73 170 411.7 C181.67 411.67 190.33 411.98 200 412.3 C209.67 412.62 219.67 413.85 228 413.6 C236.33 413.35 244.67 411.53 250 410.8 C255.33 410.07 253.33 409.78 260 409.2 C266.67 408.62 278.33 407.43 290 407.3 C301.67 407.17 315 408.22 330 408.4 C345 408.58 366.67 408.67 380 408.4 C393.33 408.13 400 407.2 410 406.8 C420 406.4 433.33 406.42 440 406 C446.67 405.58 442.5 404.38 450 404.3 C457.5 404.22 479.17 405.3 485 405.5" fill="none" stroke="#d0d0d0" stroke-width="1.3" stroke-linecap="round"/></g><rect x="1" y="438.8" width="494" height="1" fill="#2a2a2a"/><text x="514.8" y="391.8" font-size="7.6" fill="#d8301e" stroke="#d8301e" stroke-width="0.3" textLength="23" lengthAdjust="spacingAndGlyphs">400.0M</text><text x="514.8" y="404.3" font-size="7.6" fill="#d8301e" stroke="#d8301e" stroke-width="0.3" textLength="23" lengthAdjust="spacingAndGlyphs">300.0M</text><text x="514.8" y="416.8" font-size="7.6" fill="#d8301e" stroke="#d8301e" stroke-width="0.3" textLength="23" lengthAdjust="spacingAndGlyphs">200.0M</text><text x="514.8" y="429.3" font-size="7.6" fill="#d8301e" stroke="#d8301e" stroke-width="0.3" textLength="23" lengthAdjust="spacingAndGlyphs">100.0M</text><text x="514.8" y="442.8" font-size="7.6" fill="#d8301e" stroke="#d8301e" stroke-width="0.3" textLength="13.2" lengthAdjust="spacingAndGlyphs">0.00</text><path d="M511.6 384.6 L511.6 391.4 L507.3 388 Z" fill="#d8d8d8"/><path d="M511.6 439.6 L511.6 445.8 L507.3 442.7 Z" fill="#d8d8d8"/><text x="764.7" y="215.8" font-size="42" fill="#303030" textLength="118.9" lengthAdjust="spacingAndGlyphs" stroke="#000" stroke-width="1.7">IX1400</text><text x="786.4" y="250.6" font-size="23.5" fill="#303030" textLength="75.4" lengthAdjust="spacingAndGlyphs" stroke="#000" stroke-width="0.8">Lodging</text><text x="745.8" y="271.5" font-size="13" fill="#2a2a2a" textLength="155.2" lengthAdjust="spacingAndGlyphs">Consumer Cyclical Sector(C)</text><text x="801" y="286.2" font-size="11.8" fill="#2a2a2a" textLength="44.9" lengthAdjust="spacingAndGlyphs">Lodging</text><rect x="561" y="72" width="452" height="1" fill="#282828"/><rect x="561" y="106.5" width="452" height="1" fill="#282828"/><rect x="561" y="140.5" width="452" height="1" fill="#282828"/><rect x="561" y="174.5" width="461.5" height="1" fill="#282828"/><rect x="561" y="208" width="461.5" height="1" fill="#282828"/><rect x="561" y="242.5" width="461.5" height="1" fill="#282828"/><rect x="561" y="276.25" width="461.5" height="1" fill="#282828"/><rect x="561" y="310.5" width="461.5" height="1" fill="#282828"/><rect x="591.23" y="47" width="1" height="281" fill="#333333"/><rect x="639.78" y="47" width="1" height="281" fill="#333333"/><rect x="678.62" y="47" width="1" height="281" fill="#333333"/><rect x="727.17" y="47" width="1" height="281" fill="#333333"/><rect x="775.72" y="47" width="1" height="281" fill="#333333"/><rect x="824.27" y="47" width="1" height="281" fill="#333333"/><rect x="872.82" y="47" width="1" height="281" fill="#333333"/><rect x="921.37" y="47" width="1" height="281" fill="#333333"/><rect x="969.92" y="47" width="1" height="281" fill="#333333"/><rect x="1008.76" y="47" width="1" height="281" fill="#333333"/><g clip-path="url(#cr)"><path d="M656 47 C660 49.52 668.08 54.38 680 62.1 C691.92 69.82 713.33 83.85 727.5 93.3 C741.67 102.75 753.75 111.68 765 118.8 C776.25 125.92 786.67 131.38 795 136 C803.33 140.62 807.92 142.5 815 146.5 C822.08 150.5 829.58 155.92 837.5 160 C845.42 164.08 854.17 167.67 862.5 171 C870.83 174.33 880.42 177.33 887.5 180 C894.58 182.67 898.75 184.83 905 187 C911.25 189.17 917.5 191.67 925 193 C932.5 194.33 942.5 194.88 950 195 C957.5 195.12 963.33 195 970 193.75 C976.67 192.5 982.92 190.21 990 187.5 C997.08 184.79 1008.75 179.17 1012.5 177.5" fill="none" stroke="#0c18b8" stroke-width="2.3" stroke-linecap="round"/><polyline points="562.6,202.5 572.31,175 582.02,167 591.73,183 601.44,205 611.15,228 620.86,241 630.57,261 640.28,261 649.99,236 659.7,215 669.41,178.75 679.12,180 688.83,176.25 698.54,186 708.25,188 717.96,180 727.67,173.75 737.38,170.5 747.09,173.75 756.8,174.5 766.51,173 776.22,170 785.93,155 795.64,131.25 805.35,114.5 815.06,119.5 824.77,143.75 834.48,152 844.19,157 853.9,155 863.61,150 873.32,150 883.03,162 892.74,173.75 902.45,180 912.16,185 921.87,160 931.58,135 941.29,114 951,109.5 960.71,113.75 970.42,100 980.13,88.75 989.84,71.25 999.55,77.5 1009.26,79" fill="none" stroke="#35922a" stroke-width="1.15" stroke-linejoin="round" stroke-linecap="round"/><polyline points="562.6,258.75 572.31,230 582.02,217.5 591.73,223.75 601.44,232.5 611.15,251.25 620.86,265 630.57,290 640.28,298 649.99,277.5 659.7,242 669.41,217.5 679.12,213.75 688.83,207 698.54,212.5 708.25,209.5 717.96,199 727.67,193 737.38,188 747.09,193.75 756.8,193 766.51,192.5 776.22,182 785.93,165 795.64,152.5 805.35,141.25 815.06,142.5 824.77,155 834.48,172 844.19,175 853.9,170 863.61,167 873.32,163.75 883.03,174.5 892.74,190 902.45,207 912.16,217.5 921.87,200 931.58,160 941.29,140 951,130.5 960.71,129.5 970.42,116.25 980.13,108 989.84,99.5 999.55,103.75 1009.26,104.5" fill="none" stroke="#c42a1c" stroke-width="1.15" stroke-linejoin="round" stroke-linecap="round"/><line x1="562.6" y1="165" x2="562.6" y2="192" stroke="#6ad84a" stroke-width="1.35"/><line x1="562.6" y1="202" x2="562.6" y2="230" stroke="#6ad84a" stroke-width="1.35"/><rect x="560" y="192.6" width="5.2" height="8.8" fill="none" stroke="#6ad84a" stroke-width="1.2"/><line x1="572.31" y1="136.25" x2="572.31" y2="197.5" stroke="#7ee85a" stroke-width="1.35"/><rect x="569.11" y="176.25" width="6.4" height="10" fill="#7ee85a"/><line x1="582.02" y1="198.75" x2="582.02" y2="225" stroke="#e8352a" stroke-width="1.35"/><rect x="578.82" y="208.75" width="6.4" height="3.75" fill="#e8352a"/><line x1="591.73" y1="217.5" x2="591.73" y2="245" stroke="#e8352a" stroke-width="1.35"/><rect x="588.53" y="223.75" width="6.4" height="1.75" fill="#e8352a"/><line x1="601.44" y1="203" x2="601.44" y2="227" stroke="#e8352a" stroke-width="1.35"/><rect x="598.24" y="225" width="6.4" height="2" fill="#e8352a"/><line x1="611.15" y1="248.75" x2="611.15" y2="267.5" stroke="#e8352a" stroke-width="1.35"/><rect x="607.95" y="252" width="6.4" height="11.75" fill="#e8352a"/><line x1="620.86" y1="252" x2="620.86" y2="292.5" stroke="#e8352a" stroke-width="1.35"/><rect x="617.66" y="266.25" width="6.4" height="22.5" fill="#e8352a"/><line x1="630.57" y1="285.5" x2="630.57" y2="322.5" stroke="#e8352a" stroke-width="1.35"/><rect x="627.37" y="288.75" width="6.4" height="20.75" fill="#e8352a"/><rect x="637.68" y="248.1" width="5.2" height="31.3" fill="none" stroke="#6ad84a" stroke-width="1.2"/><line x1="649.99" y1="183" x2="649.99" y2="235" stroke="#7ee85a" stroke-width="1.35"/><rect x="646.79" y="229.5" width="6.4" height="1.6" fill="#7ee85a"/><line x1="659.7" y1="190.5" x2="659.7" y2="193.7" stroke="#6ad84a" stroke-width="1.35"/><line x1="659.7" y1="220.2" x2="659.7" y2="224.3" stroke="#6ad84a" stroke-width="1.35"/><rect x="657.1" y="194.3" width="5.2" height="25.3" fill="none" stroke="#6ad84a" stroke-width="1.2"/><line x1="669.41" y1="160" x2="669.41" y2="196.1" stroke="#7ee85a" stroke-width="1.35"/><rect x="666.21" y="184.5" width="6.4" height="6" fill="#7ee85a"/><line x1="679.12" y1="190.5" x2="679.12" y2="221.2" stroke="#e8352a" stroke-width="1.35"/><rect x="675.92" y="190.5" width="6.4" height="18.1" fill="#e8352a"/><line x1="688.83" y1="180" x2="688.83" y2="186.1" stroke="#6ad84a" stroke-width="1.35"/><line x1="688.83" y1="195.5" x2="688.83" y2="201.2" stroke="#6ad84a" stroke-width="1.35"/><rect x="686.23" y="186.7" width="5.2" height="8.2" fill="none" stroke="#6ad84a" stroke-width="1.2"/><line x1="698.54" y1="188.75" x2="698.54" y2="198" stroke="#e8352a" stroke-width="1.35"/><rect x="695.94" y="198.6" width="5.2" height="12.05" fill="none" stroke="#e8352a" stroke-width="1.2"/><line x1="708.25" y1="193.75" x2="708.25" y2="197" stroke="#6ad84a" stroke-width="1.35"/><line x1="708.25" y1="202" x2="708.25" y2="216.25" stroke="#6ad84a" stroke-width="1.35"/><rect x="705.65" y="197.6" width="5.2" height="3.8" fill="none" stroke="#6ad84a" stroke-width="1.2"/><rect x="715.36" y="163.1" width="5.2" height="11.8" fill="none" stroke="#6ad84a" stroke-width="1.2"/><line x1="727.67" y1="165" x2="727.67" y2="185.5" stroke="#e8352a" stroke-width="1.35"/><rect x="724.47" y="176.25" width="6.4" height="9.25" fill="#e8352a"/><line x1="737.38" y1="186.25" x2="737.38" y2="192.5" stroke="#e8352a" stroke-width="1.35"/><rect x="734.78" y="193.1" width="5.2" height="6.3" fill="none" stroke="#e8352a" stroke-width="1.2"/><line x1="747.09" y1="175" x2="747.09" y2="191.25" stroke="#7ee85a" stroke-width="1.35"/><rect x="743.89" y="178" width="6.4" height="8.25" fill="#7ee85a"/><line x1="756.8" y1="167.5" x2="756.8" y2="185.5" stroke="#7ee85a" stroke-width="1.35"/><rect x="753.6" y="181.25" width="6.4" height="1.6" fill="#7ee85a"/><line x1="766.51" y1="176.25" x2="766.51" y2="193.75" stroke="#e8352a" stroke-width="1.35"/><rect x="763.31" y="181.25" width="6.4" height="6.75" fill="#e8352a"/><line x1="776.22" y1="151.25" x2="776.22" y2="157.5" stroke="#6ad84a" stroke-width="1.35"/><rect x="773.62" y="158.1" width="5.2" height="16.3" fill="none" stroke="#6ad84a" stroke-width="1.2"/><line x1="785.93" y1="136.25" x2="785.93" y2="160.5" stroke="#7ee85a" stroke-width="1.35"/><rect x="782.73" y="142.5" width="6.4" height="5" fill="#7ee85a"/><line x1="795.64" y1="90.5" x2="795.64" y2="101.25" stroke="#6ad84a" stroke-width="1.35"/><rect x="793.04" y="101.85" width="5.2" height="23.05" fill="none" stroke="#6ad84a" stroke-width="1.2"/><line x1="805.35" y1="118" x2="805.35" y2="136.25" stroke="#e8352a" stroke-width="1.35"/><rect x="802.15" y="118" width="6.4" height="12" fill="#e8352a"/><line x1="815.06" y1="149.5" x2="815.06" y2="166.25" stroke="#e8352a" stroke-width="1.35"/><rect x="811.86" y="152.5" width="6.4" height="11.25" fill="#e8352a"/><line x1="824.77" y1="166.25" x2="824.77" y2="172" stroke="#e8352a" stroke-width="1.35"/><line x1="824.77" y1="182.5" x2="824.77" y2="188.75" stroke="#e8352a" stroke-width="1.35"/><rect x="822.17" y="172.6" width="5.2" height="9.3" fill="none" stroke="#e8352a" stroke-width="1.2"/><line x1="834.48" y1="147.5" x2="834.48" y2="166.25" stroke="#7ee85a" stroke-width="1.35"/><rect x="831.28" y="163.75" width="6.4" height="1.6" fill="#7ee85a"/><line x1="844.19" y1="158" x2="844.19" y2="177" stroke="#e8352a" stroke-width="1.35"/><rect x="840.99" y="159.5" width="6.4" height="17.5" fill="#e8352a"/><line x1="853.9" y1="152.5" x2="853.9" y2="157.5" stroke="#6ad84a" stroke-width="1.35"/><line x1="853.9" y1="171.25" x2="853.9" y2="172.5" stroke="#6ad84a" stroke-width="1.35"/><rect x="851.3" y="158.1" width="5.2" height="12.55" fill="none" stroke="#6ad84a" stroke-width="1.2"/><line x1="863.61" y1="140" x2="863.61" y2="143.75" stroke="#6ad84a" stroke-width="1.35"/><line x1="863.61" y1="147.5" x2="863.61" y2="152.5" stroke="#6ad84a" stroke-width="1.35"/><rect x="861.01" y="144.35" width="5.2" height="2.55" fill="none" stroke="#6ad84a" stroke-width="1.2"/><line x1="873.32" y1="155.5" x2="873.32" y2="170" stroke="#e8352a" stroke-width="1.35"/><rect x="870.12" y="158" width="6.4" height="10.75" fill="#e8352a"/><line x1="883.03" y1="162" x2="883.03" y2="187.5" stroke="#e8352a" stroke-width="1.35"/><rect x="879.83" y="163.75" width="6.4" height="23.75" fill="#e8352a"/><line x1="892.74" y1="188" x2="892.74" y2="216.25" stroke="#e8352a" stroke-width="1.35"/><rect x="889.54" y="190.5" width="6.4" height="21.5" fill="#e8352a"/><line x1="902.45" y1="222" x2="902.45" y2="235" stroke="#6ad84a" stroke-width="1.35"/><rect x="899.85" y="190.6" width="5.2" height="30.8" fill="none" stroke="#6ad84a" stroke-width="1.2"/><line x1="912.16" y1="183.75" x2="912.16" y2="187.5" stroke="#6ad84a" stroke-width="1.35"/><line x1="912.16" y1="195" x2="912.16" y2="201.25" stroke="#6ad84a" stroke-width="1.35"/><rect x="909.56" y="188.1" width="5.2" height="6.3" fill="none" stroke="#6ad84a" stroke-width="1.2"/><line x1="921.87" y1="123.75" x2="921.87" y2="128.75" stroke="#6ad84a" stroke-width="1.35"/><line x1="921.87" y1="159.5" x2="921.87" y2="160" stroke="#6ad84a" stroke-width="1.35"/><rect x="919.27" y="129.35" width="5.2" height="29.55" fill="none" stroke="#6ad84a" stroke-width="1.2"/><line x1="931.58" y1="107" x2="931.58" y2="127" stroke="#6ad84a" stroke-width="1.35"/><line x1="931.58" y1="129.5" x2="931.58" y2="137.5" stroke="#6ad84a" stroke-width="1.35"/><rect x="928.98" y="127.6" width="5.2" height="1.3" fill="none" stroke="#6ad84a" stroke-width="1.2"/><line x1="941.29" y1="109.5" x2="941.29" y2="122.5" stroke="#7ee85a" stroke-width="1.35"/><rect x="938.09" y="115" width="6.4" height="1.6" fill="#7ee85a"/><line x1="951" y1="112.5" x2="951" y2="131.25" stroke="#e8352a" stroke-width="1.35"/><rect x="947.8" y="121.25" width="6.4" height="3" fill="#e8352a"/><line x1="960.71" y1="118.75" x2="960.71" y2="133.75" stroke="#e8352a" stroke-width="1.35"/><rect x="957.51" y="121.25" width="6.4" height="3" fill="#e8352a"/><line x1="970.42" y1="75" x2="970.42" y2="93" stroke="#6ad84a" stroke-width="1.35"/><rect x="967.82" y="93.6" width="5.2" height="2.05" fill="none" stroke="#6ad84a" stroke-width="1.2"/><line x1="980.13" y1="67.5" x2="980.13" y2="96.25" stroke="#7ee85a" stroke-width="1.35"/><rect x="976.93" y="67.5" width="6.4" height="7.5" fill="#7ee85a"/><line x1="989.84" y1="70" x2="989.84" y2="100" stroke="#e8352a" stroke-width="1.35"/><rect x="986.64" y="71.25" width="6.4" height="28.75" fill="#e8352a"/><line x1="999.55" y1="100" x2="999.55" y2="114.5" stroke="#e8352a" stroke-width="1.35"/><rect x="996.35" y="105.5" width="6.4" height="3.25" fill="#e8352a"/><line x1="1009.26" y1="77" x2="1009.26" y2="80" stroke="#6ad84a" stroke-width="1.35"/><rect x="1006.66" y="80.6" width="5.2" height="23.3" fill="none" stroke="#6ad84a" stroke-width="1.2"/><polyline points="561,212 571.8,207 590,209.5 601,213.25 613.75,223.75 625,240 632,248 641,248 655,240 667.5,228.75 680,222.5 697.5,213.75 707.5,210 720,200 736.25,197 748.75,193.75 767.5,191.25 785,177.5 795,166.25 805,158 825,160 837.5,162.5 850,163.75 862.5,159.5 875,161.25 890,172.5 911.25,178.75 925,168.75 940,155 950,150 961.25,142.5 972.5,133.75 981.25,123 990,119.5 1000,116.25 1012.5,107" fill="none" stroke="#bc3ad4" stroke-width="2.7" stroke-linejoin="round" stroke-linecap="round" stroke-opacity="0.92"/></g><text x="1042.8" y="76.4" font-size="11.3" fill="#54d23e" stroke="#54d23e" stroke-width="0.3" textLength="34.9" lengthAdjust="spacingAndGlyphs">1,000.00</text><text x="1042.8" y="110.9" font-size="11.3" fill="#54d23e" stroke="#54d23e" stroke-width="0.3" textLength="28.7" lengthAdjust="spacingAndGlyphs">950.00</text><text x="1042.8" y="144.6" font-size="11.3" fill="#54d23e" stroke="#54d23e" stroke-width="0.3" textLength="28.7" lengthAdjust="spacingAndGlyphs">900.00</text><text x="1042.8" y="178.5" font-size="11.3" fill="#54d23e" stroke="#54d23e" stroke-width="0.3" textLength="28.7" lengthAdjust="spacingAndGlyphs">850.00</text><text x="1042.8" y="212.3" font-size="11.3" fill="#54d23e" stroke="#54d23e" stroke-width="0.3" textLength="28.7" lengthAdjust="spacingAndGlyphs">800.00</text><text x="1042.8" y="246.6" font-size="11.3" fill="#54d23e" stroke="#54d23e" stroke-width="0.3" textLength="28.7" lengthAdjust="spacingAndGlyphs">750.00</text><text x="1042.8" y="280.4" font-size="11.3" fill="#54d23e" stroke="#54d23e" stroke-width="0.3" textLength="28.7" lengthAdjust="spacingAndGlyphs">700.00</text><text x="1042.8" y="314.6" font-size="11.3" fill="#54d23e" stroke="#54d23e" stroke-width="0.3" textLength="28.7" lengthAdjust="spacingAndGlyphs">650.00</text><path d="M1039.4 67.7 L1039.4 74.5 L1034.6 71.1 Z" fill="#d8d8d8"/><path d="M1039.6 324.8 L1039.6 331.2 L1034.5 328 Z" fill="#d8d8d8"/><text x="592.13" y="344.4" font-size="10" fill="#d0d8e0" stroke="#d0d8e0" stroke-width="0.3" textLength="10.6" lengthAdjust="spacingAndGlyphs" text-anchor="middle">30</text><text x="640.68" y="344.4" font-size="10" fill="#d0d8e0" stroke="#d0d8e0" stroke-width="0.3" textLength="5.4" lengthAdjust="spacingAndGlyphs" text-anchor="middle">6</text><text x="679.52" y="344.4" font-size="10" fill="#d0d8e0" stroke="#d0d8e0" stroke-width="0.3" textLength="10.6" lengthAdjust="spacingAndGlyphs" text-anchor="middle">13</text><text x="728.07" y="344.4" font-size="10" fill="#d0d8e0" stroke="#d0d8e0" stroke-width="0.3" textLength="10.6" lengthAdjust="spacingAndGlyphs" text-anchor="middle">20</text><text x="776.62" y="344.4" font-size="10" fill="#d0d8e0" stroke="#d0d8e0" stroke-width="0.3" textLength="10.6" lengthAdjust="spacingAndGlyphs" text-anchor="middle">27</text><text x="825.17" y="344.4" font-size="10" fill="#d0d8e0" stroke="#d0d8e0" stroke-width="0.3" textLength="5.4" lengthAdjust="spacingAndGlyphs" text-anchor="middle">4</text><text x="873.72" y="344.4" font-size="10" fill="#d0d8e0" stroke="#d0d8e0" stroke-width="0.3" textLength="10.6" lengthAdjust="spacingAndGlyphs" text-anchor="middle">11</text><text x="922.27" y="344.4" font-size="10" fill="#d0d8e0" stroke="#d0d8e0" stroke-width="0.3" textLength="10.6" lengthAdjust="spacingAndGlyphs" text-anchor="middle">18</text><text x="970.82" y="344.4" font-size="10" fill="#d0d8e0" stroke="#d0d8e0" stroke-width="0.3" textLength="10.6" lengthAdjust="spacingAndGlyphs" text-anchor="middle">26</text><text x="1012.2" y="349.8" font-size="8.6" fill="#b8c0c8" stroke="#b8c0c8" stroke-width="0.3" textLength="30.3" lengthAdjust="spacingAndGlyphs" text-anchor="middle">6/1/2020</text><text x="592.8" y="356" font-size="10" fill="#d0d8e0" stroke="#d0d8e0" stroke-width="0.3" textLength="36.7" lengthAdjust="spacingAndGlyphs">Apr 2020</text><text x="796" y="356" font-size="10" fill="#d0d8e0" stroke="#d0d8e0" stroke-width="0.3" textLength="39.4" lengthAdjust="spacingAndGlyphs">May 2020</text><text x="561.3" y="356.2" font-size="10" fill="#c0c8d0" stroke="#c0c8d0" stroke-width="0.3" textLength="19.5" lengthAdjust="spacingAndGlyphs">2020</text><rect x="560.5" y="337.5" width="16" height="16.6" fill="#000"/><g transform="translate(560.5 -1.4)"><path d="M4.2 346.5 Q4.5 343.2 9 343.2 L12 343.2" fill="none" stroke="#8e8e8e" stroke-width="1.9"/><path d="M11.3 340.8 L15 343.2 L11.3 345.8 Z" fill="#8e8e8e"/><path d="M13.8 347.5 Q13.5 350.8 9 350.8 L6 350.8" fill="none" stroke="#8e8e8e" stroke-width="1.9"/><path d="M6.7 348.2 L3 350.8 L6.7 353.3 Z" fill="#8e8e8e"/></g><text x="1041.6" y="353.5" font-size="13.2" fill="#5aa0e4" stroke="#5aa0e4" stroke-width="0.3" textLength="27.7" lengthAdjust="spacingAndGlyphs">Arith</text><path d="M1073.8 345.5 L1080.7 345.5 L1077.25 349.2 Z" fill="#8a8a8a"/><rect x="562" y="361.5" width="477" height="1.2" fill="#4a4a4a"/><rect x="561" y="390.8" width="462" height="1" fill="#282828"/><rect x="561" y="406.8" width="462" height="1" fill="#282828"/><rect x="561" y="422.8" width="462" height="1" fill="#282828"/><rect x="591.23" y="379.5" width="1" height="60.5" fill="#333333"/><rect x="639.78" y="379.5" width="1" height="60.5" fill="#333333"/><rect x="678.62" y="379.5" width="1" height="60.5" fill="#333333"/><rect x="727.17" y="379.5" width="1" height="60.5" fill="#333333"/><rect x="775.72" y="379.5" width="1" height="60.5" fill="#333333"/><rect x="824.27" y="379.5" width="1" height="60.5" fill="#333333"/><rect x="872.82" y="379.5" width="1" height="60.5" fill="#333333"/><rect x="921.37" y="379.5" width="1" height="60.5" fill="#333333"/><rect x="969.92" y="379.5" width="1" height="60.5" fill="#333333"/><rect x="1008.76" y="379.5" width="1" height="60.5" fill="#333333"/><g clip-path="url(#vr)"><rect x="559.75" y="388.6" width="5.3" height="50.4" fill="#6af4f4"/><rect x="569.46" y="388.6" width="5.3" height="50.4" fill="#6af4f4"/><rect x="579.17" y="405" width="5.3" height="34" fill="#e8352a"/><rect x="588.88" y="407.7" width="5.3" height="31.3" fill="#e8352a"/><rect x="598.59" y="405" width="5.3" height="34" fill="#e8352a"/><rect x="608.3" y="403.7" width="5.3" height="35.3" fill="#e8352a"/><rect x="618.01" y="399.4" width="5.3" height="39.6" fill="#e8352a"/><rect x="627.72" y="394.3" width="5.3" height="44.7" fill="#e8352a"/><rect x="637.43" y="384.3" width="5.3" height="54.7" fill="#6af4f4"/><rect x="647.14" y="380" width="5.3" height="59" fill="#6af4f4"/><rect x="656.85" y="392.9" width="5.3" height="46.1" fill="#6af4f4"/><rect x="666.56" y="388" width="5.3" height="51" fill="#6af4f4"/><rect x="676.27" y="409.4" width="5.3" height="29.6" fill="#e8352a"/><rect x="685.98" y="406.6" width="5.3" height="32.4" fill="#6af4f4"/><rect x="695.69" y="406.6" width="5.3" height="32.4" fill="#e8352a"/><rect x="705.4" y="403.4" width="5.3" height="35.6" fill="#6af4f4"/><rect x="715.11" y="406.6" width="5.3" height="32.4" fill="#6af4f4"/><rect x="724.82" y="410.5" width="5.3" height="28.5" fill="#e8352a"/><rect x="734.53" y="409.6" width="5.3" height="29.4" fill="#e8352a"/><rect x="744.24" y="413.8" width="5.3" height="25.2" fill="#6af4f4"/><rect x="753.95" y="416.1" width="5.3" height="22.9" fill="#6af4f4"/><rect x="763.66" y="419.8" width="5.3" height="19.2" fill="#e8352a"/><rect x="773.37" y="408.9" width="5.3" height="30.1" fill="#6af4f4"/><rect x="783.08" y="407.9" width="5.3" height="31.1" fill="#6af4f4"/><rect x="792.79" y="395.9" width="5.3" height="43.1" fill="#6af4f4"/><rect x="802.5" y="407.9" width="5.3" height="31.1" fill="#e8352a"/><rect x="812.21" y="410.9" width="5.3" height="28.1" fill="#e8352a"/><rect x="821.92" y="413.8" width="5.3" height="25.2" fill="#e8352a"/><rect x="831.63" y="414.6" width="5.3" height="24.4" fill="#6af4f4"/><rect x="841.34" y="417" width="5.3" height="22" fill="#e8352a"/><rect x="851.05" y="400.8" width="5.3" height="38.2" fill="#6af4f4"/><rect x="860.76" y="401.9" width="5.3" height="37.1" fill="#6af4f4"/><rect x="870.47" y="404.3" width="5.3" height="34.7" fill="#e8352a"/><rect x="880.18" y="415.4" width="5.3" height="23.6" fill="#e8352a"/><rect x="889.89" y="407.2" width="5.3" height="31.8" fill="#e8352a"/><rect x="899.6" y="409.7" width="5.3" height="29.3" fill="#6af4f4"/><rect x="909.31" y="416.4" width="5.3" height="22.6" fill="#6af4f4"/><rect x="919.02" y="391.8" width="5.3" height="47.2" fill="#6af4f4"/><rect x="928.73" y="404.8" width="5.3" height="34.2" fill="#6af4f4"/><rect x="938.44" y="415" width="5.3" height="24" fill="#6af4f4"/><rect x="948.15" y="416.4" width="5.3" height="22.6" fill="#e8352a"/><rect x="957.86" y="419.9" width="5.3" height="19.1" fill="#e8352a"/><rect x="967.57" y="406.2" width="5.3" height="32.8" fill="#6af4f4"/><rect x="977.28" y="406.2" width="5.3" height="32.8" fill="#6af4f4"/><rect x="986.99" y="410.1" width="5.3" height="28.9" fill="#e8352a"/><rect x="996.7" y="415" width="5.3" height="24" fill="#e8352a"/><rect x="1006.41" y="407.7" width="5.3" height="31.3" fill="#6af4f4"/><path d="M561 386.7 C567.5 386.73 587.67 386.78 600 386.9 C612.33 387.02 626.67 387.5 635 387.4 C643.33 387.3 644.5 386.58 650 386.3 C655.5 386.02 661.67 385.62 668 385.7 C674.33 385.78 682.67 386.25 688 386.8 C693.33 387.35 696.33 387.97 700 389 C703.67 390.03 706.67 391.67 710 393 C713.33 394.33 715 395.58 720 397 C725 398.42 732.67 400.28 740 401.5 C747.33 402.72 754 403.78 764 404.3 C774 404.82 789.67 404.28 800 404.6 C810.33 404.92 818.5 405.43 826 406.2 C833.5 406.97 834.33 408.57 845 409.2 C855.67 409.83 879 409.7 890 410 C901 410.3 890.67 411 911 411 C931.33 411 995.17 410.17 1012 410" fill="none" stroke="#d0d0d0" stroke-width="1.3" stroke-linecap="round"/></g><text x="1042.7" y="410.3" font-size="7.6" fill="#d8301e" stroke="#d8301e" stroke-width="0.3" textLength="18" lengthAdjust="spacingAndGlyphs">20.0M</text><text x="1042.7" y="426.1" font-size="7.6" fill="#d8301e" stroke="#d8301e" stroke-width="0.3" textLength="18" lengthAdjust="spacingAndGlyphs">10.0M</text><text x="1042.7" y="394.6" font-size="7.6" fill="#d8301e" stroke="#d8301e" stroke-width="0.3" textLength="18" lengthAdjust="spacingAndGlyphs">30.0M</text><text x="1042.7" y="442.8" font-size="7.6" fill="#d8301e" stroke="#d8301e" stroke-width="0.3" textLength="13.2" lengthAdjust="spacingAndGlyphs">0.00</text><rect x="1039.1" y="381.6" width="24.6" height="8.3" fill="#000" stroke="#d8d8d8" stroke-width="1"/><text x="1041" y="388.6" font-size="7.6" fill="#ffffff" stroke="#ffffff" stroke-width="0.3" textLength="20.5" lengthAdjust="spacingAndGlyphs">33.1M</text><path d="M1039.1 382.5 L1039.1 388.9 L1035.2 385.7 Z" fill="#d8d8d8"/><path d="M1039.5 439.6 L1039.5 445.5 L1035 442.55 Z" fill="#d8d8d8"/></svg>
</body></html>
